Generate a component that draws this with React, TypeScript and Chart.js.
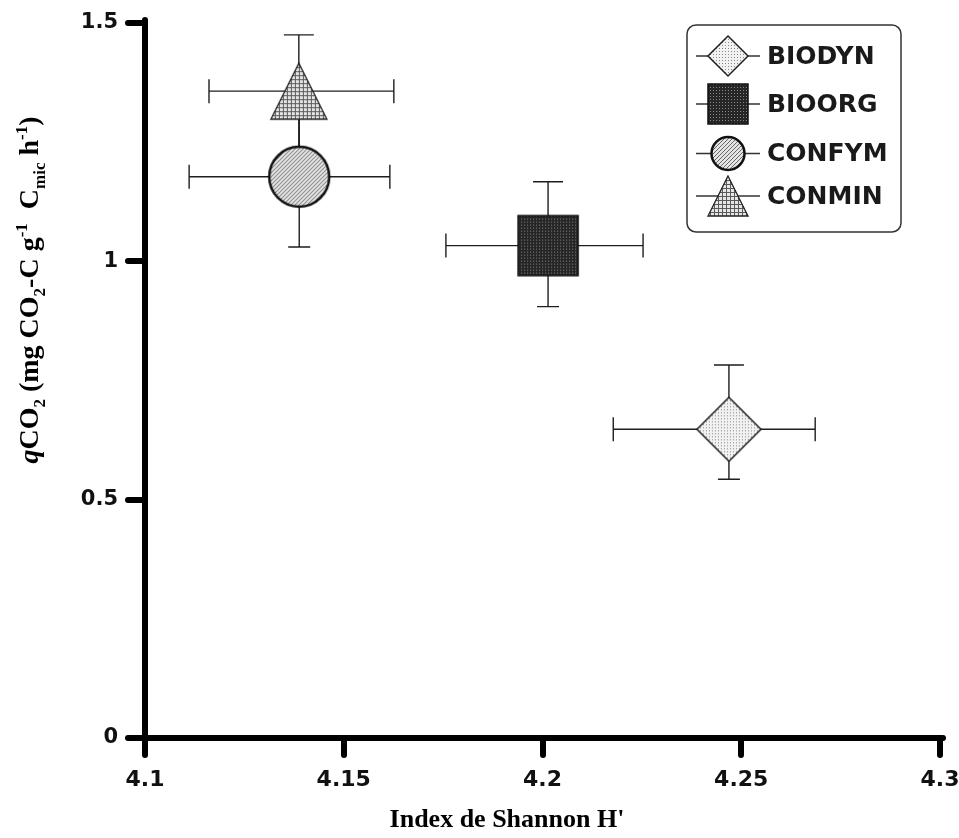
import React, { useEffect, useRef } from 'react';
import { Chart, registerables } from 'chart.js';

Chart.register(...registerables);

// ---- data ----
const groups = ['BIODYN', 'BIOORG', 'CONFYM', 'CONMIN'];
const shannon = [4.2469, 4.2014, 4.1388, 4.1387];
const shannonLow = [4.2178, 4.1757, 4.1111, 4.1161];
const shannonHigh = [4.2686, 4.2253, 4.1616, 4.1626];
const qco2 = [0.6476, 1.033, 1.1775, 1.357];
const qco2Low = [0.5427, 0.905, 1.03, 1.2];
const qco2High = [0.7825, 1.167, 1.325, 1.475];
const xTicks = [4.1, 4.15, 4.2, 4.25, 4.3];
const xTickLabels = ['4.1', '4.15', '4.2', '4.25', '4.3'];
const yTicks = [0, 0.5, 1, 1.5];
const yTickLabels = ['0', '0.5', '1', '1.5'];
const markerShapes = ['diamond', 'square', 'circle', 'triangle'];
const markerFills = ['dots', 'darkdots', 'hatch', 'grid'];
const xTitle = "Index de Shannon H'";
const yTitleSegs = [
  { t: 'q', k: 'i' },
  { t: 'CO', k: 'n' },
  { t: '2', k: 'sub' },
  { t: ' (mg CO', k: 'n' },
  { t: '2', k: 'sub' },
  { t: '-C g', k: 'n' },
  { t: '-1', k: 'sup' },
  { t: '  C', k: 'n' },
  { t: 'mic', k: 'sub' },
  { t: ' h', k: 'n' },
  { t: '-1', k: 'sup' },
  { t: ')', k: 'n' },
];

function makeTile(kind: string): HTMLCanvasElement {
  const t = document.createElement('canvas');
  const c = t.getContext('2d')!;
  if (kind === 'dots') {
    t.width = 3; t.height = 3;
    c.fillStyle = '#f2f2f2'; c.fillRect(0, 0, 3, 3);
    c.fillStyle = '#858585'; c.fillRect(1, 1, 1, 1);
  } else if (kind === 'darkdots') {
    t.width = 3; t.height = 3;
    c.fillStyle = '#262626'; c.fillRect(0, 0, 3, 3);
    c.fillStyle = '#8a8a8a'; c.fillRect(1, 1, 1, 1);
  } else if (kind === 'hatch') {
    t.width = 4; t.height = 4;
    c.fillStyle = '#e4e4e4'; c.fillRect(0, 0, 4, 4);
    c.fillStyle = '#666';
    for (let i = 0; i < 4; i++) c.fillRect(i, 3 - i, 1, 1);
  } else {
    t.width = 4; t.height = 4;
    c.fillStyle = '#e6e6e6'; c.fillRect(0, 0, 4, 4);
    c.fillStyle = '#5a5a5a'; c.fillRect(0, 0, 4, 1); c.fillRect(0, 0, 1, 4);
  }
  return t;
}

function shapePath(ctx: CanvasRenderingContext2D, shape: string, cx: number, cy: number, s: number) {
  ctx.beginPath();
  if (shape === 'diamond') {
    ctx.moveTo(cx, cy - s); ctx.lineTo(cx + s, cy); ctx.lineTo(cx, cy + s); ctx.lineTo(cx - s, cy); ctx.closePath();
  } else if (shape === 'square') {
    ctx.rect(cx - s, cy - s, 2 * s, 2 * s);
  } else if (shape === 'circle') {
    ctx.arc(cx, cy, s, 0, Math.PI * 2);
  } else {
    ctx.moveTo(cx, cy - s); ctx.lineTo(cx + s, cy + s); ctx.lineTo(cx - s, cy + s); ctx.closePath();
  }
}

const borderW: Record<string, number> = { diamond: 1.5, square: 1.5, circle: 2.5, triangle: 1.3 };
const borderC: Record<string, string> = { diamond: '#222', square: '#111', circle: '#111', triangle: '#222' };

function makeMarker(shape: string, fill: string, s: number, lineHalf = 0): HTMLCanvasElement {
  const c = document.createElement('canvas');
  const w = Math.max(2 * s + 8, lineHalf * 2 + 4);
  const h = 2 * s + 8;
  c.width = w; c.height = h;
  const ctx = c.getContext('2d')!;
  const cx = w / 2, cy = h / 2;
  if (lineHalf > 0) {
    ctx.strokeStyle = '#333'; ctx.lineWidth = 1.5;
    ctx.beginPath(); ctx.moveTo(cx - lineHalf, cy); ctx.lineTo(cx + lineHalf, cy); ctx.stroke();
  }
  shapePath(ctx, shape, cx, cy, s);
  ctx.fillStyle = ctx.createPattern(makeTile(fill), 'repeat')!;
  ctx.fill();
  ctx.lineWidth = borderW[shape];
  ctx.strokeStyle = borderC[shape];
  ctx.stroke();
  return c;
}

const plotSize: Record<string, number> = { diamond: 32, square: 30, circle: 30, triangle: 28 };
const legendSize: Record<string, number> = { diamond: 20, square: 20, circle: 16.5, triangle: 20 };

export default function App() {
  const ref = useRef<HTMLCanvasElement | null>(null);

  useEffect(() => {
    if (!ref.current) return;
    const plotMarkers = markerShapes.map((s, i) => makeMarker(s, markerFills[i], plotSize[s]));
    const legendMarkers = markerShapes.map((s, i) => makeMarker(s, markerFills[i], legendSize[s], 32));

    const roundCaps = {
      id: 'roundCaps',
      beforeDraw(chart: any) { chart.ctx.lineCap = 'round'; },
      afterDraw(chart: any) { chart.ctx.lineCap = 'butt'; },
    };

    const errorBars = {
      id: 'errorBars',
      beforeDatasetsDraw(chart: any) {
        const { ctx } = chart;
        const x = chart.scales.x, y = chart.scales.y;
        ctx.save();
        ctx.lineCap = 'butt';
        ctx.strokeStyle = '#1e1e1e';
        ctx.lineWidth = 1.4;
        groups.forEach((_, i) => {
          const px = x.getPixelForValue(shannon[i]);
          const py = y.getPixelForValue(qco2[i]);
          const xl = x.getPixelForValue(shannonLow[i]);
          const xh = x.getPixelForValue(shannonHigh[i]);
          const yl = y.getPixelForValue(qco2Low[i]);
          const yh = y.getPixelForValue(qco2High[i]);
          ctx.beginPath();
          ctx.moveTo(xl, py); ctx.lineTo(xh, py);
          ctx.moveTo(xl, py - 12); ctx.lineTo(xl, py + 12);
          ctx.moveTo(xh, py - 12); ctx.lineTo(xh, py + 12);
          ctx.moveTo(px, yl); ctx.lineTo(px, yh);
          ctx.moveTo(px - 15, yh); ctx.lineTo(px + 15, yh);
          ctx.moveTo(px - 11, yl); ctx.lineTo(px + 11, yl);
          ctx.stroke();
        });
        ctx.restore();
      },
    };

    const decorations = {
      id: 'decorations',
      afterDraw(chart: any) {
        const { ctx, chartArea: ca } = chart;
        ctx.save();
        // legend box
        const bx = ca.right - 253, by = ca.top + 2, bw = 214, bh = 207;
        ctx.beginPath();
        ctx.roundRect(bx, by, bw, bh, 9);
        ctx.fillStyle = '#fff';
        ctx.fill();
        ctx.lineWidth = 1.5;
        ctx.strokeStyle = '#333';
        ctx.stroke();
        const offs = [31, 79, 128, 171];
        ctx.font = 'bold 25px "DejaVu Sans"';
        ctx.textAlign = 'left';
        ctx.textBaseline = 'middle';
        ctx.fillStyle = '#1a1a1a';
        chart.data.datasets.forEach((ds: any, i: number) => {
          const img = legendMarkers[i];
          const cx = bx + 41, cy = by + offs[i];
          ctx.drawImage(img, Math.round(cx - img.width / 2), Math.round(cy - img.height / 2));
          ctx.fillText(ds.label, bx + 80, cy + 1);
        });

        // x title
        ctx.font = 'bold 26px "Liberation Serif"';
        ctx.textAlign = 'center';
        ctx.textBaseline = 'alphabetic';
        ctx.fillStyle = '#000';
        ctx.fillText(xTitle, ca.left + 0.4553 * (ca.right - ca.left), ca.bottom + 89);

        // y title (rich text, rotated)
        const fontFor = (k: string) =>
          k === 'i' ? 'italic bold 28px "Liberation Serif"' :
          k === 'n' ? 'bold 28px "Liberation Serif"' : 'bold 17px "Liberation Serif"';
        const offFor = (k: string) => (k === 'sub' ? 7 : k === 'sup' ? -11 : 0);
        let total = 0;
        yTitleSegs.forEach((s) => { ctx.font = fontFor(s.k); total += ctx.measureText(s.t).width; });
        ctx.translate(38, ca.top + 267);
        ctx.rotate(-Math.PI / 2);
        ctx.textAlign = 'left';
        let pos = -total / 2;
        yTitleSegs.forEach((s) => {
          ctx.font = fontFor(s.k);
          ctx.fillText(s.t, pos, offFor(s.k));
          pos += ctx.measureText(s.t).width;
        });
        ctx.restore();
      },
    };

    const tickFont = (size: number) => ({ family: '"DejaVu Sans"', weight: 'bold' as const, size });

    const chart = new Chart(ref.current, {
      type: 'scatter',
      data: {
        datasets: groups.map((g, i) => ({
          label: g,
          data: [{ x: shannon[i], y: qco2[i] }],
          pointStyle: plotMarkers[i] as any,
          pointRadius: 30,
          pointHoverRadius: 30,
          showLine: false,
          clip: false as any,
        })),
      },
      options: {
        responsive: false,
        animation: false,
        events: [],
        layout: { autoPadding: false, padding: { left: 0, top: 23, right: 19, bottom: 0 } },
        plugins: { legend: { display: false }, tooltip: { enabled: false } },
        scales: {
          x: {
            type: 'linear',
            min: 4.1,
            max: 4.3,
            afterBuildTicks: (s: any) => { s.ticks = xTicks.map((v) => ({ value: v })); },
            afterFit: (s: any) => { s.height = 100; s.paddingLeft = 0; s.paddingRight = 0; },
            ticks: {
              callback: (_v: any, i: number) => xTickLabels[i],
              font: tickFont(22),
              color: '#111',
              padding: 12,
              maxRotation: 0,
              autoSkip: false,
            },
            grid: {
              display: true,
              drawOnChartArea: false,
              drawTicks: true,
              tickLength: 17,
              tickWidth: 6,
              tickColor: '#000',
              lineWidth: 6,
              color: '#000',
            },
            border: { display: true, width: 6, color: '#000' },
          },
          y: {
            type: 'linear',
            min: 0,
            max: 1.5,
            afterBuildTicks: (s: any) => { s.ticks = yTicks.map((v) => ({ value: v })); },
            afterFit: (s: any) => { s.width = 145; s.paddingTop = 0; s.paddingBottom = 0; },
            ticks: {
              callback: (_v: any, i: number) => yTickLabels[i],
              font: tickFont(21),
              color: '#111',
              padding: 10,
              autoSkip: false,
            },
            grid: {
              display: true,
              drawOnChartArea: false,
              drawTicks: true,
              tickLength: 17,
              tickWidth: 6,
              tickColor: '#000',
              lineWidth: 6,
              color: '#000',
            },
            border: { display: true, width: 6, color: '#000' },
          },
        },
      },
      plugins: [roundCaps, errorBars, decorations],
    });
    return () => chart.destroy();
  }, []);

  return (
    <div style={{ position: 'absolute', left: 0, top: 0, width: 959, height: 838, background: '#fff' }}>
      <canvas ref={ref} width={959} height={838} style={{ display: 'block', width: 959, height: 838 }} />
    </div>
  );
}
